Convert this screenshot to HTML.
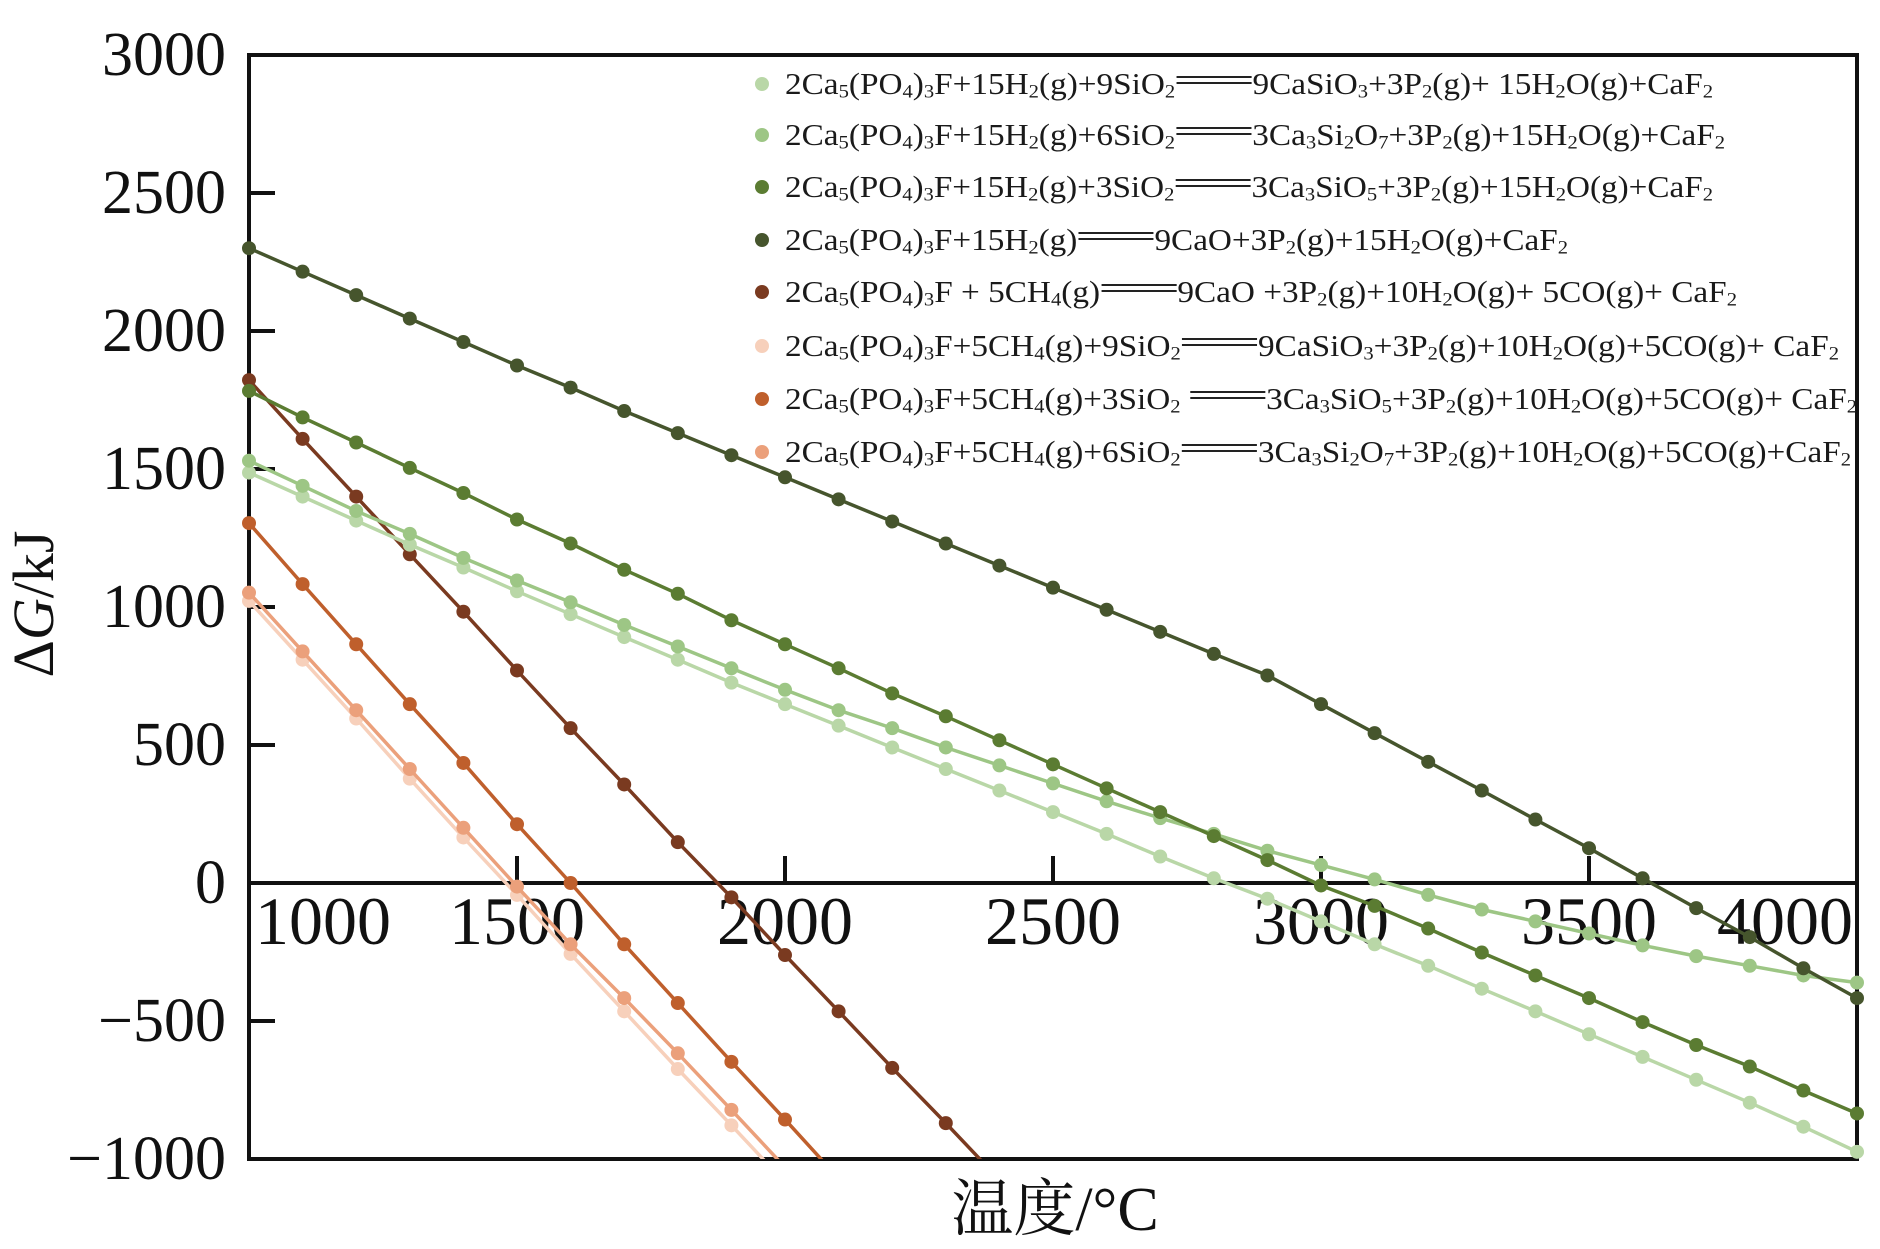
<!DOCTYPE html>
<html><head><meta charset="utf-8">
<style>
html,body{margin:0;padding:0;background:#fff;}
#wrap{position:relative;width:1880px;height:1249px;overflow:hidden;background:#fff;}
svg{position:absolute;left:0;top:0;}
.lg{position:absolute;left:785px;font-family:"Liberation Serif",serif;font-size:31px;color:#1a1a1a;white-space:nowrap;transform-origin:0 50%;line-height:1;}
.lg sub{font-size:0.62em;vertical-align:-0.18em;line-height:0;}
.eq{display:inline-block;width:70px;height:4px;border-top:2px solid #222;border-bottom:2px solid #222;vertical-align:0.3em;margin:0 1px;}
.mk{position:absolute;width:14px;height:14px;border-radius:50%;left:755px;}
</style></head>
<body>
<div id="wrap">
<svg id="chart" width="1880" height="1249"></svg>
</div>
<script>
const temps = [1000,1100,1200,1300,1400,1500,1600,1700,1800,1900,2000,2100,2200,2300,2400,2500,2600,2700,2800,2900,3000,3100,3200,3300,3400,3500,3600,3700,3800,3900,4000];
const sH2Si9 = [1487,1400,1313,1226,1143,1057,974,891,809,726,648,570,491,413,335,257,178,96,17,-57,-139,-222,-300,-383,-465,-548,-630,-713,-796,-883,-974];
const sH2Si6 = [1530,1439,1348,1265,1178,1096,1017,935,857,778,700,626,561,491,426,361,296,235,178,117,65,13,-43,-96,-139,-183,-226,-265,-300,-335,-361];
const sH2Si3 = [1783,1687,1596,1504,1413,1317,1230,1135,1048,952,865,778,687,604,517,430,343,257,170,83,-9,-83,-165,-252,-335,-417,-504,-587,-665,-752,-835];
const sH2 = [2300,2215,2130,2045,1960,1875,1795,1710,1630,1550,1470,1390,1310,1230,1150,1070,990,910,830,752,648,543,439,335,230,126,17,-91,-196,-309,-417];
const sCH4 = [1822,1609,1400,1191,983,770,561,357,148,-52,-261,-465,-670,-870,-1075];
const sCH4Si9 = [1022,809,596,378,165,-43,-257,-465,-674,-878,-1085];
const sCH4Si3 = [1304,1083,865,648,435,213,0,-222,-435,-648,-857,-1070];
const sCH4Si6 = [1052,839,626,413,200,-13,-222,-417,-617,-822,-1030];
const xTicks = [1000,1500,2000,2500,3000,3500,4000];
const yTicks = [3000,2500,2000,1500,1000,500,0,-500,-1000];
const legendLabels = [
 '2Ca<sub>5</sub>(PO<sub>4</sub>)<sub>3</sub>F+15H<sub>2</sub>(g)+9SiO<sub>2</sub><span class="eq"></span>9CaSiO<sub>3</sub>+3P<sub>2</sub>(g)+ 15H<sub>2</sub>O(g)+CaF<sub>2</sub>',
 '2Ca<sub>5</sub>(PO<sub>4</sub>)<sub>3</sub>F+15H<sub>2</sub>(g)+6SiO<sub>2</sub><span class="eq"></span>3Ca<sub>3</sub>Si<sub>2</sub>O<sub>7</sub>+3P<sub>2</sub>(g)+15H<sub>2</sub>O(g)+CaF<sub>2</sub>',
 '2Ca<sub>5</sub>(PO<sub>4</sub>)<sub>3</sub>F+15H<sub>2</sub>(g)+3SiO<sub>2</sub><span class="eq"></span>3Ca<sub>3</sub>SiO<sub>5</sub>+3P<sub>2</sub>(g)+15H<sub>2</sub>O(g)+CaF<sub>2</sub>',
 '2Ca<sub>5</sub>(PO<sub>4</sub>)<sub>3</sub>F+15H<sub>2</sub>(g)<span class="eq"></span>9CaO+3P<sub>2</sub>(g)+15H<sub>2</sub>O(g)+CaF<sub>2</sub>',
 '2Ca<sub>5</sub>(PO<sub>4</sub>)<sub>3</sub>F + 5CH<sub>4</sub>(g)<span class="eq"></span>9CaO +3P<sub>2</sub>(g)+10H<sub>2</sub>O(g)+ 5CO(g)+ CaF<sub>2</sub>',
 '2Ca<sub>5</sub>(PO<sub>4</sub>)<sub>3</sub>F+5CH<sub>4</sub>(g)+9SiO<sub>2</sub><span class="eq"></span>9CaSiO<sub>3</sub>+3P<sub>2</sub>(g)+10H<sub>2</sub>O(g)+5CO(g)+ CaF<sub>2</sub>',
 '2Ca<sub>5</sub>(PO<sub>4</sub>)<sub>3</sub>F+5CH<sub>4</sub>(g)+3SiO<sub>2</sub> <span class="eq"></span>3Ca<sub>3</sub>SiO<sub>5</sub>+3P<sub>2</sub>(g)+10H<sub>2</sub>O(g)+5CO(g)+ CaF<sub>2</sub>',
 '2Ca<sub>5</sub>(PO<sub>4</sub>)<sub>3</sub>F+5CH<sub>4</sub>(g)+6SiO<sub>2</sub><span class="eq"></span>3Ca<sub>3</sub>Si<sub>2</sub>O<sub>7</sub>+3P<sub>2</sub>(g)+10H<sub>2</sub>O(g)+5CO(g)+CaF<sub>2</sub>'
];

const L=249,R=1857,T=55,B=1159;
const xMin=1000,xMax=4000,yMin=-1000,yMax=3000;
function sx(v){return L+(v-xMin)/(xMax-xMin)*(R-L);}
function sy(v){return B-(v-yMin)/(yMax-yMin)*(B-T);}
const NS='http://www.w3.org/2000/svg';
const svg=document.getElementById('chart');
function mk(tag,attrs,parent){const e=document.createElementNS(NS,tag);for(const k in attrs)e.setAttribute(k,attrs[k]);(parent||svg).appendChild(e);return e;}

const defs=mk('defs',{});
const cp=mk('clipPath',{id:'clip'},defs);
mk('rect',{x:L-10,y:T,width:R-L+20,height:B-T},cp);

const frame=mk('rect',{x:L,y:T,width:R-L,height:B-T,fill:'none',stroke:'#111','stroke-width':4});


const zl=mk('line',{x1:L,x2:R,y1:sy(0),y2:sy(0),stroke:'#111','stroke-width':4});



yTicks.forEach(v=>{
  const y=sy(v);
  if(v<3000&&v>-1000){const t=mk('line',{x1:L,x2:L+26,y1:y,y2:y,stroke:'#111','stroke-width':4});
  
  }
  const tx=mk('text',{x:226,y:y+20,'text-anchor':'end','font-family':'Liberation Serif, serif','font-size':62,fill:'#111'});
  tx.textContent=v<0?'\u2212'+Math.abs(v):String(v);
  
  
});
xTicks.forEach(v=>{
  const x=sx(v);
  if(v>1000&&v<4000){const t=mk('line',{x1:x,x2:x,y1:sy(0),y2:sy(0)-27,stroke:'#111','stroke-width':4});
  
  }
  let anchor='middle',xx=x;
  if(v===1000){anchor='start';xx=x+6;}
  if(v===4000){anchor='end';xx=x-4;}
  const tx=mk('text',{x:xx,y:944,'text-anchor':anchor,'font-family':'Liberation Serif, serif','font-size':68,fill:'#111'});
  tx.textContent=String(v);
  
  
});

const series=[
 {d:sH2Si9,c:'#b9d7a7',n:'series-h2-9sio2'},
 {d:sH2Si6,c:'#9dc685',n:'series-h2-6sio2'},
 {d:sH2Si3,c:'#5b7c32',n:'series-h2-3sio2'},
 {d:sH2,c:'#46552d',n:'series-h2'},
 {d:sCH4,c:'#7a3a20',n:'series-ch4'},
 {d:sCH4Si9,c:'#f7d0bb',n:'series-ch4-9sio2'},
 {d:sCH4Si3,c:'#bf5f2c',n:'series-ch4-3sio2'},
 {d:sCH4Si6,c:'#eba07b',n:'series-ch4-6sio2'}
];
const drawOrder=[5,7,6,4,0,1,2,3];
drawOrder.forEach(i=>{
  const s=series[i];
  const g=mk('g',{'clip-path':'url(#clip)'});
  
  
  const pts=s.d.map((v,j)=>sx(temps[j]).toFixed(1)+','+sy(v).toFixed(1)).join(' ');
  const pl=mk('polyline',{points:pts,fill:'none',stroke:s.c,'stroke-width':3.5},g);
  
  
  s.d.forEach((v,j)=>{
    const c=mk('circle',{cx:sx(temps[j]),cy:sy(v),r:7,fill:s.c},g);
    
    
  });
});

const xt=mk('text',{x:1055,y:1230,'text-anchor':'middle','font-family':'Liberation Serif, Noto Serif CJK SC, serif','font-size':62,fill:'#111'});
xt.textContent='温度/°C';


const yt=mk('text',{x:0,y:0,'text-anchor':'middle','font-family':'Liberation Serif, serif','font-size':58,fill:'#111',transform:'translate(53,604) rotate(-90)'});
yt.innerHTML='\u0394<tspan font-style="italic">G</tspan>/kJ';



const wrap=document.getElementById('wrap');
const rowY=[83,134,186,239,291,345,398,451];
const targetW=[928,940,928,783,952,1054,1072,1066];
legendLabels.forEach((lab,i)=>{
  const m=document.createElement('div');
  m.className='mk';
  m.style.top=(rowY[i]-6)+'px';
  m.style.background=series[i].c;
  
  
  wrap.appendChild(m);
  const d=document.createElement('div');
  d.className='lg';
  d.innerHTML=lab;
  
  
  wrap.appendChild(d);
  const h=d.getBoundingClientRect().height;
  d.style.top=(rowY[i]-h/2)+'px';
  const w=d.getBoundingClientRect().width;
  d.style.transform='scaleX('+(targetW[i]/w)+')';
});
</script>
</body></html>
